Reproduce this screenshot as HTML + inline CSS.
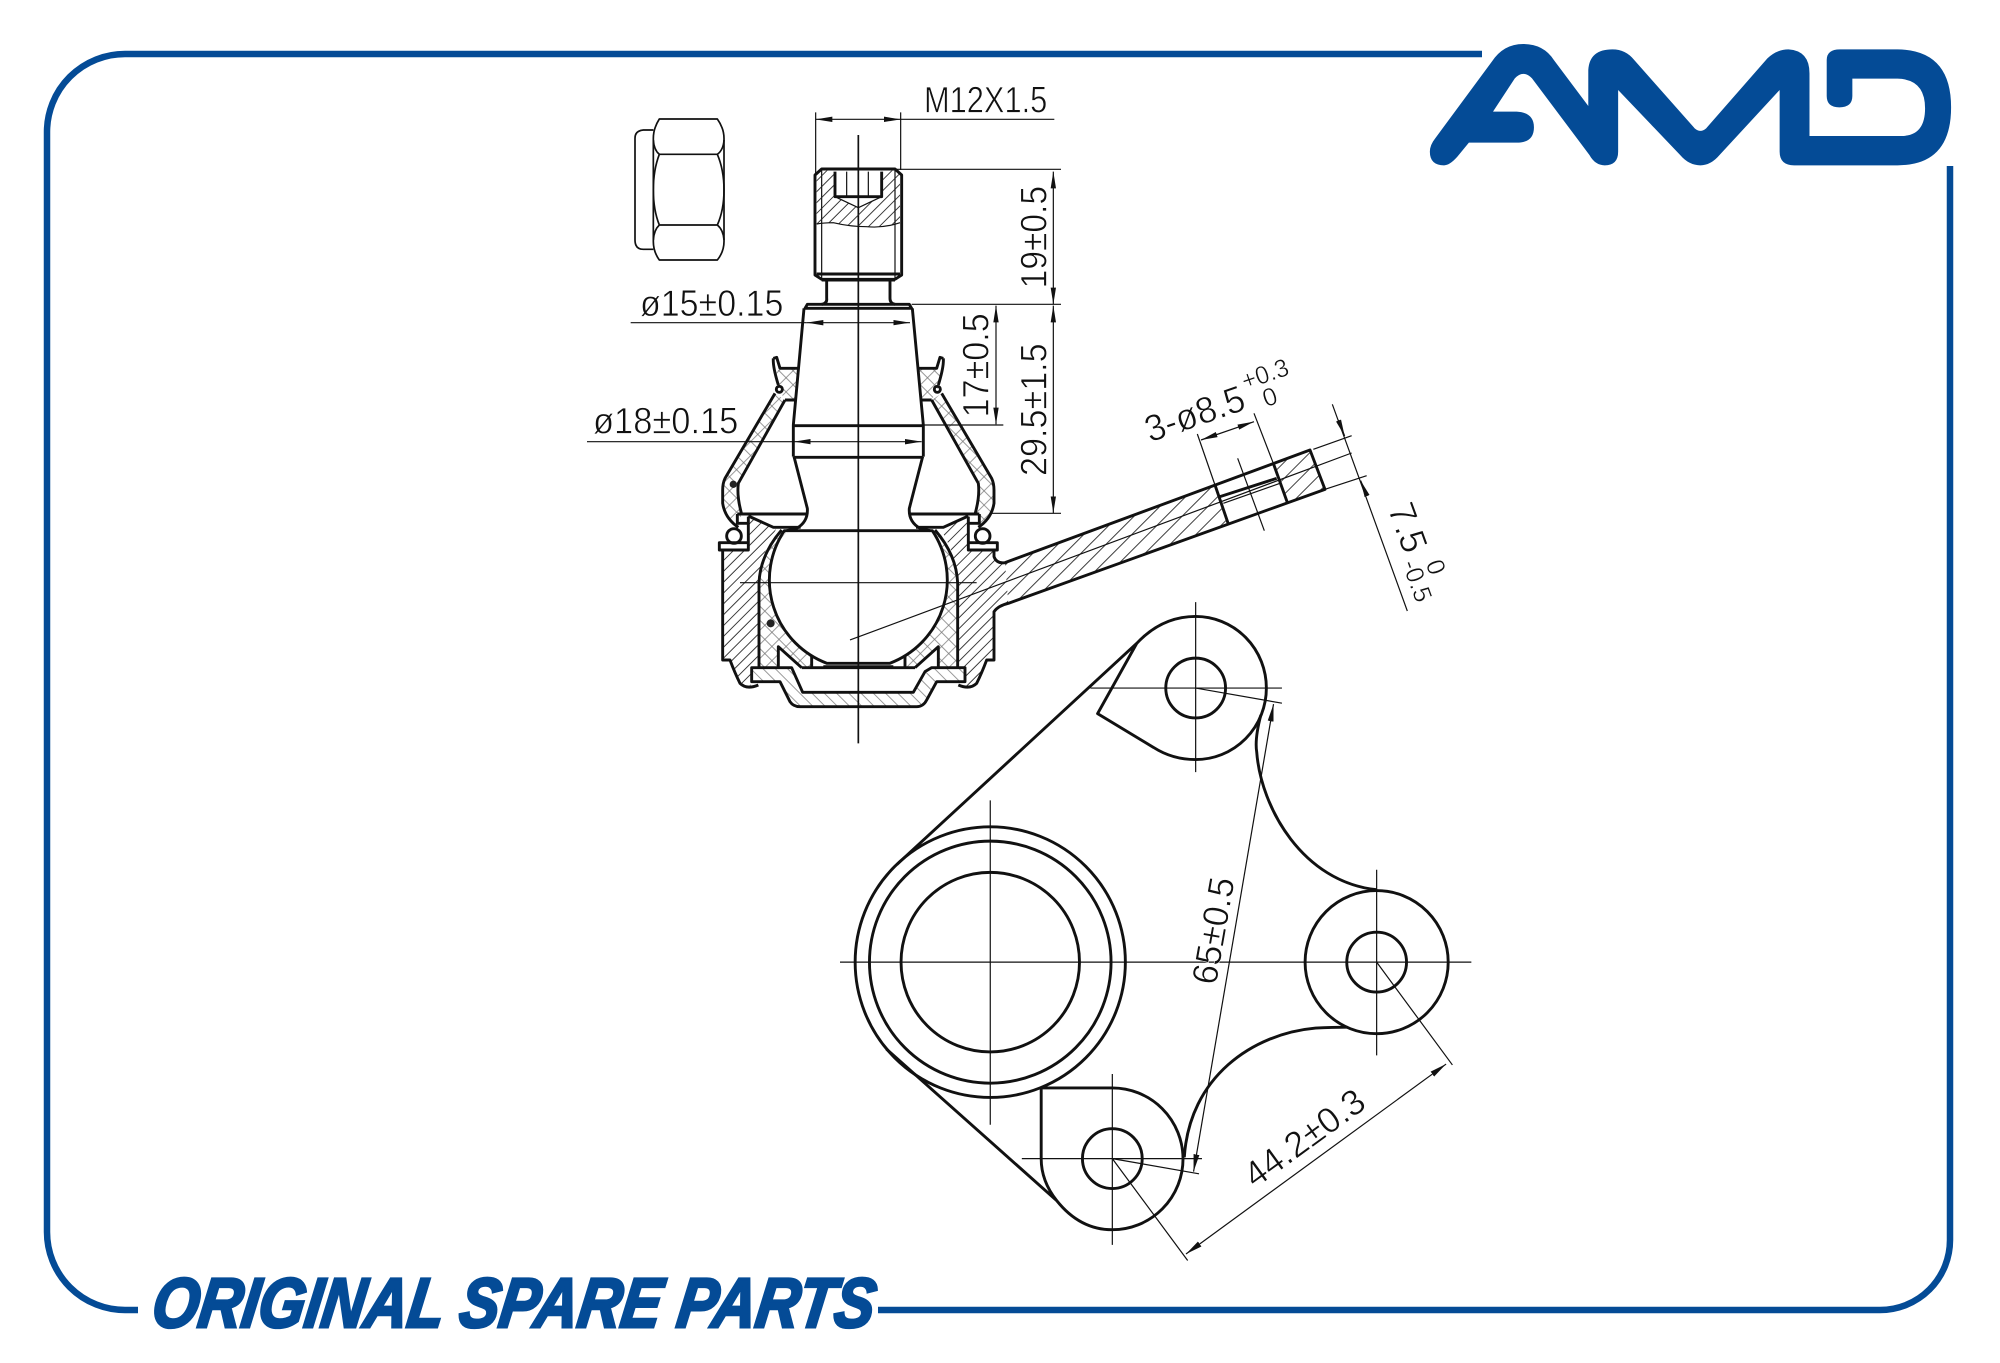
<!DOCTYPE html>
<html><head><meta charset="utf-8"><title>AMD ball joint</title>
<style>
html,body{margin:0;padding:0;background:#fff}
svg{display:block}
.t,.k,.m{fill:none;stroke:#111;vector-effect:non-scaling-stroke;stroke-linejoin:round}
.t{stroke-width:1.2}
.k{stroke-width:2.9}
.m{stroke-width:1.7}
text{font-family:"Liberation Sans",sans-serif;fill:#111}
.d{font-size:112px;stroke:#fff;stroke-width:2px}
.s{font-size:76px;stroke:#fff;stroke-width:1.5px}
.p{font-size:36px;stroke:#fff;stroke-width:.6px}
</style></head><body>
<svg width="2000" height="1363" viewBox="0 0 2000 1363" xmlns="http://www.w3.org/2000/svg">
<defs>
<pattern id="h" width="23" height="23" patternUnits="userSpaceOnUse" patternTransform="rotate(45)"><line x1="3" y1="0" x2="3" y2="23" stroke="#222" stroke-width="2.6"/></pattern>
<pattern id="h2" width="34" height="34" patternUnits="userSpaceOnUse" patternTransform="rotate(45)"><line x1="3" y1="0" x2="3" y2="34" stroke="#222" stroke-width="2.6"/></pattern>
<pattern id="c" width="30" height="30" patternUnits="userSpaceOnUse" patternTransform="rotate(45)"><path d="M3,0V30M0,3H30" stroke="#777" stroke-width="2.2" fill="none"/></pattern>
<pattern id="b" width="26" height="26" patternUnits="userSpaceOnUse" patternTransform="rotate(-45)"><line x1="3" y1="0" x2="3" y2="26" stroke="#777" stroke-width="2.2"/></pattern>
<marker id="a" markerUnits="userSpaceOnUse" markerWidth="60" markerHeight="24" refX="50" refY="12" orient="auto-start-reverse" viewBox="0 0 60 24"><path d="M50,12 L0,4 L0,20Z" fill="#111"/></marker>
<marker id="a6" markerUnits="userSpaceOnUse" markerWidth="48" markerHeight="20" refX="40" refY="10" orient="auto-start-reverse" viewBox="0 0 48 20"><path d="M40,10 L0,3 L0,17Z" fill="#111"/></marker>
</defs>

<!-- frame -->
<g fill="none" stroke="#044b96" stroke-width="6.5">
<path d="M1482,54 H125 A78,78 0 0 0 47,132 V1232 A78,78 0 0 0 125,1310 H138"/>
<path d="M878,1310 H1880 A70,70 0 0 0 1950,1240 V166"/>
</g>
<g transform="translate(1400,20) scale(.3827,.3333)">
<path fill="#044b96" d="M78,395 Q78,375 92,355 L240,125 Q270,72 322,72 Q375,72 402,120 L492,258 V150 Q495,88 555,88 Q590,88 612,120 L770,325 Q785,340 800,325 L960,115 Q985,88 1015,88 Q1070,92 1070,160 V348 H1310 Q1372,348 1372,265 Q1372,178 1300,176 H1182 V228 Q1182,262 1148,262 Q1115,262 1115,228 V120 Q1115,88 1150,88 H1300 Q1440,90 1440,262 Q1440,436 1300,436 H1030 Q992,436 992,395 V210 L835,405 Q812,436 785,436 Q755,436 732,405 L570,210 V395 Q570,436 535,436 Q510,436 495,405 L345,175 Q322,148 300,175 L243,275 H305 Q350,278 350,322 Q350,368 305,368 H180 L150,410 Q130,436 115,436 Q78,436 78,395Z"/>
</g>
<text transform="translate(150,1327) skewX(-8)" font-size="70" font-weight="bold" font-style="italic" textLength="722" lengthAdjust="spacingAndGlyphs" style="fill:#044b96;stroke:#044b96;stroke-width:3">ORIGINAL SPARE PARTS</text>

<!-- section view -->
<g transform="translate(680,440) scale(.33333)">
<!-- fills -->
<path fill="url(#h)" d="M128,332 H205 V230 L288,268 Q240,345 237,430 V680 H215 V725 L210,740 Q190,745 180,725 L150,660 H128Z"/>
<path fill="url(#h)" d="M865,332 V230 L782,268 Q830,345 833,430 V680 H855 V725 L860,740 Q880,745 890,725 L920,660 H942 V515 Q955,497 985,490 L975,368 Q950,372 942,350 V330Z"/>
<path fill="url(#h2)" d="M985,490 L1645,252 L1605,135 L975,368Z"/>
<path fill="url(#h2)" d="M1780,70 L1890,30 L1935,148 L1823,190Z"/>
<path fill="url(#c)" d="M285,-140 L135,115 Q128,130 128,150 V190 Q135,235 175,262 L185,222 Q170,170 175,130 L315,-120Z"/>
<path fill="url(#c)" d="M785,-140 L935,115 Q942,130 942,150 V190 Q935,235 895,262 L885,222 Q900,170 895,130 L755,-120Z"/>
<path fill="url(#c)" d="M290,-210 L355,-215 L345,-120 H315 L290,-165Z"/>
<path fill="url(#c)" d="M780,-210 L715,-215 L725,-120 H755 L780,-165Z"/>
<path fill="url(#c)" d="M237,430 Q240,345 305,275 L318,278 Q255,350 268,430 A267,267 0 0 0 395,647 V683 H365 L295,620 V680 H237Z"/>
<path fill="url(#c)" d="M833,430 Q830,345 765,275 L752,278 Q815,350 802,430 A267,267 0 0 1 675,647 V683 H705 L775,620 V680 H833Z"/>
<path fill="url(#b)" d="M215,683 H335 L368,757 H700 L735,695 L755,683 H855 V725 H770 L740,780 Q730,800 710,800 H360 Q340,800 330,785 L300,725 H215Z"/>

<!-- left half linework -->
<g>
<path class="k" d="M285,-140 L135,115 Q128,130 128,150 V190 Q135,235 175,262"/>
<path class="k" d="M315,-120 L175,130 Q170,170 185,222"/>
<path class="k" d="M280,-245 L290,-248 L300,-215 H355 M280,-245 Q278,-220 295,-165 M315,-120 H345"/>
<circle class="k" cx="298" cy="-152" r="9"/>
<circle cx="160" cy="133" r="11" fill="#222"/>
<path class="k" d="M342,50 L382,205 Q385,245 350,265 L320,272"/>
<path class="k" d="M172,222 H382 M205,228 L280,262 H362 M172,222 V250 H205"/>
<circle class="k" cx="162" cy="288" r="22"/>
<path class="k" d="M205,308 H118 V330 H205 V230"/>
<path class="k" d="M237,680 V430 Q240,345 305,270"/>
<path class="k" d="M295,683 V620 L365,683 M395,648 V683"/>
<path class="k" d="M128,330 V660 H150 Q165,700 180,730 Q200,750 235,735"/>
</g>
<!-- right half linework -->
<g transform="translate(1070,0) scale(-1,1)">
<path class="k" d="M285,-140 L135,115 Q128,130 128,150 V190 Q135,235 175,262"/>
<path class="k" d="M315,-120 L175,130 Q170,170 185,222"/>
<path class="k" d="M280,-245 L290,-248 L300,-215 H355 M280,-245 Q278,-220 295,-165 M315,-120 H345"/>
<circle class="k" cx="298" cy="-152" r="9"/>
<path class="k" d="M342,50 L382,205 Q385,245 350,265 L320,272"/>
<path class="k" d="M172,222 H382 M205,228 L280,262 H362 M172,222 V250 H205"/>
<circle class="k" cx="162" cy="288" r="22"/>
<path class="k" d="M205,308 H118 V330 H205 V230"/>
<path class="k" d="M237,680 V430 Q240,345 305,270"/>
<path class="k" d="M295,683 V620 L365,683 M395,648 V683"/>
</g>
<circle cx="272" cy="550" r="12" fill="#222"/>
<!-- ball -->
<path class="k" d="M313,272 A267,267 0 0 0 441,670 H629 A267,267 0 0 0 757,272 Z"/>
<path class="k" d="M430,680 H640 M365,683 H705"/>
<!-- arm and right housing -->
<path class="k" d="M942,330 V350 Q950,372 975,368 L1890,30 L1935,148 L985,490 Q955,497 942,515 V660 H920 Q905,700 890,730 Q870,750 835,735"/>
<path class="k" d="M1605,135 L1645,252 M1780,70 L1823,190 M1620,170 L1790,115"/>
<path class="t" d="M1630,190 L1800,130"/>
<!-- plug -->
<path class="k" d="M215,683 H335 L368,757 H700 L735,695 L755,683 H855 V725 H770 L740,780 Q730,800 710,800 H360 Q340,800 330,785 L300,725 H215Z"/>

<!-- centre lines -->
<path class="m" d="M535,-915 V910"/>
<path class="t" d="M180,428 H890 M510,600 L2015,39 M1673,55 L1753,272"/>

<!-- stud -->
<g transform="translate(-240,-1140)">
<path class="k" d="M665,327 H885 L905,345 V645 L885,658 H665 L645,645 V345Z M650,642 H900"/>
<path class="t" d="M665,327 V658 M885,327 V658 M740,335 V410 M805,335 V410"/>
<path fill="url(#h)" d="M650,345 L665,332 H705 V410 L775,443 L845,410 V332 H885 L900,345 V488 Q850,505 800,500 Q750,500 700,488 Q670,488 650,492Z"/>
<path class="k" d="M705,335 V410 H845 V335"/>
<path class="t" d="M705,410 L775,443 L845,410 M650,492 Q670,488 700,488 Q750,500 800,500 Q850,505 900,488"/>
<path class="k" d="M665,660 H885 M680,660 V715 Q682,730 665,733 M870,660 V715 Q870,730 885,733"/>
<path class="k" d="M615,745 L622,733 H928 L935,745 Z"/>
<path class="k" d="M612,745 L580,1095 V1190 M937,745 L970,1095 V1190 M580,1097 H970 M580,1192 H970"/>
<!-- nut -->
<path class="m" d="M160,210 H130 Q105,212 105,235 V540 Q105,568 130,568 H160"/>
<path class="m" d="M178,177 H352 Q372,205 372,235 V545 Q372,575 352,600 H178 Q160,575 160,545 V235 Q160,205 178,177Z"/>
<path class="m" d="M178,283 H352 M178,495 H352 M160,240 Q162,270 178,283 M372,240 Q370,270 352,283 M178,283 Q160,330 160,390 Q160,450 178,495 M352,283 Q372,330 372,390 Q372,450 352,495 M178,495 Q162,510 160,540 M352,495 Q370,510 372,540"/>
<!-- dims -->
<path class="t" d="M647,157 V345 M902,157 V330 M902,178 H1363 M890,328 H1383 M935,733 H1383 M970,1095 H1210 M92,788 H620 M-39,1145 H582"/>
<path class="t" d="M647,178 H902" marker-start="url(#a)" marker-end="url(#a)"/>
<path class="t" d="M620,788 H930" marker-start="url(#a)" marker-end="url(#a)"/>
<path class="t" d="M582,1145 H965" marker-start="url(#a)" marker-end="url(#a)"/>
<path class="t" d="M1360,335 V733" marker-start="url(#a)" marker-end="url(#a)"/>
<path class="t" d="M1360,737 V1359" marker-start="url(#a)" marker-end="url(#a)"/>
<path class="t" d="M1188,737 V1093" marker-start="url(#a)" marker-end="url(#a)"/>
</g>
<path class="t" d="M930,220 H1143"/>
<!-- arm dims -->
<path class="t" d="M1552,-18 L1605,135 M1722,-80 L1780,70 M1900,28 L2015,-13 M1935,148 L2060,107 M1957,-107 L2182,513"/>
<path class="t" d="M1563,0 L1722,-55" marker-start="url(#a)" marker-end="url(#a)"/>
<path class="t" d="M1975,-60 L1994,-12" marker-end="url(#a)"/>
<path class="t" d="M2060,165 L2042,122" marker-end="url(#a)"/>
<!-- text -->
<text class="d" x="732" y="-982" textLength="370" lengthAdjust="spacingAndGlyphs">M12X1.5</text>
<text class="d" x="-120" y="-372" textLength="430" lengthAdjust="spacingAndGlyphs">ø15±0.15</text>
<text class="d" x="-261" y="-20" textLength="436" lengthAdjust="spacingAndGlyphs">ø18±0.15</text>
<text class="d" transform="translate(1100,-455) rotate(-90)" textLength="307" lengthAdjust="spacingAndGlyphs">19±0.5</text>
<text class="d" transform="translate(1100,108) rotate(-90)" textLength="398" lengthAdjust="spacingAndGlyphs">29.5±1.5</text>
<text class="d" transform="translate(925,-68) rotate(-90)" textLength="312" lengthAdjust="spacingAndGlyphs">17±0.5</text>
<text class="d" transform="translate(1410,8) rotate(-19)" textLength="310" lengthAdjust="spacingAndGlyphs">3-ø8.5</text>
<text class="s" transform="translate(1695,-150) rotate(-19)" textLength="145" lengthAdjust="spacingAndGlyphs">+0.3</text>
<text class="s" transform="translate(1758,-98) rotate(-19)">0</text>
<text class="d" transform="translate(2122,205) rotate(70)" textLength="150" lengthAdjust="spacingAndGlyphs">7.5</text>
<text class="s" transform="translate(2236,370) rotate(70)">0</text>
<text class="s" transform="translate(2165,370) rotate(70)" textLength="130" lengthAdjust="spacingAndGlyphs">-0.5</text>
</g>

<!-- plan view -->
<g transform="translate(840,600) scale(.4209,.4337)">
<ellipse class="k" cx="357" cy="835" rx="321" ry="312"/>
<ellipse class="k" cx="357" cy="835" rx="287" ry="279"/>
<ellipse class="k" cx="357" cy="835" rx="212" ry="207"/>
<ellipse class="k" cx="845" cy="203" rx="71" ry="69"/>
<ellipse class="k" cx="1275" cy="835" rx="170" ry="165"/>
<ellipse class="k" cx="1275" cy="835" rx="71" ry="69"/>
<ellipse class="k" cx="647" cy="1288" rx="71" ry="69"/>
<path class="k" d="M135,610 L705,100 L612,262 L745,340 Q790,368 845,368 A168,165 0 0 0 1013,203 A168,165 0 0 0 845,38 Q765,38 705,100"/>
<path class="k" d="M110,1035 L515,1385 Q570,1452 647,1452 A168,164 0 0 0 815,1288 A168,164 0 0 0 647,1125 H478 V1288 Q478,1340 515,1385"/>
<path class="k" d="M1000,265 Q985,320 990,350 C1000,480 1100,650 1275,668"/>
<path class="k" d="M1205,985 Q1170,985 1130,987 C980,1000 830,1100 818,1285"/>
<path class="t" d="M357,462 V1210 M0,835 H1500 M845,5 V397 M595,203 H1050 M1275,622 V1050 M647,1093 V1487 M432,1288 H860"/>
<path class="t" d="M845,203 L1050,238 M647,1288 L853,1323 M1275,835 L1455,1072 M647,1288 L826,1523"/>
<path class="t" d="M1030,240 L840,1318" marker-start="url(#a6)" marker-end="url(#a6)"/>
<path class="t" d="M1440,1070 L822,1508" marker-start="url(#a6)" marker-end="url(#a6)"/>
</g>
<text class="p" transform="translate(1216,986) rotate(-80)" textLength="108" lengthAdjust="spacingAndGlyphs">65±0.5</text>
<text class="p" transform="translate(1255,1189) rotate(-36)" textLength="140" lengthAdjust="spacingAndGlyphs">44.2±0.3</text>
</svg>
</body></html>
